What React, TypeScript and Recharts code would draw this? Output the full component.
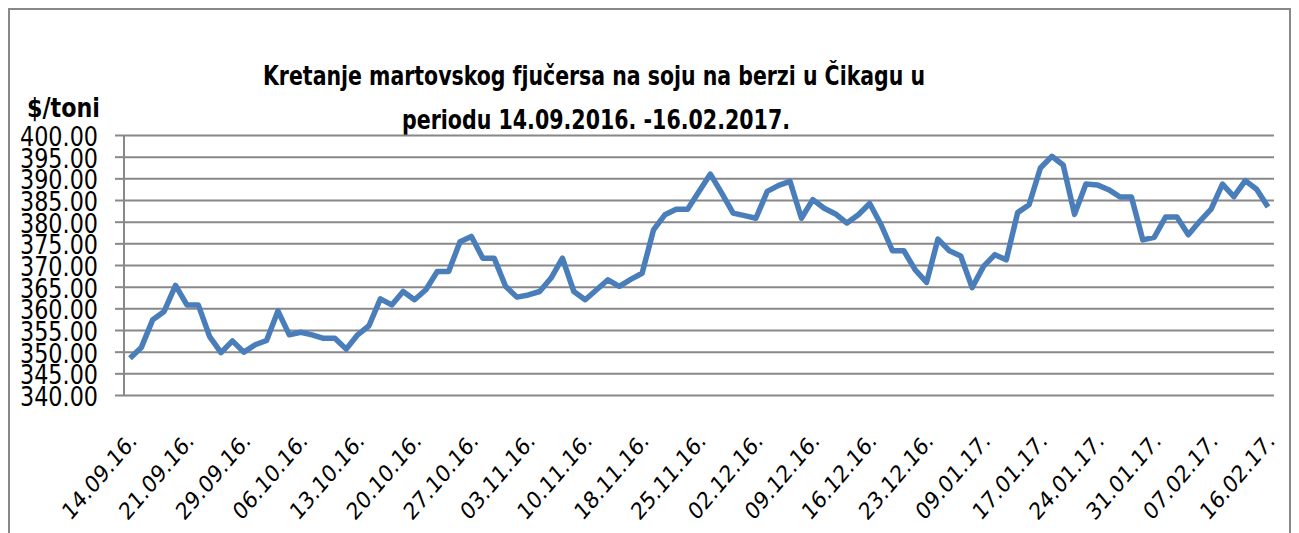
import React from 'react';
import { LineChart, Line, XAxis, YAxis, CartesianGrid } from 'recharts';

const dates = [
  '14.09.16.', '15.09.16.', '16.09.16.', '19.09.16.', '20.09.16.',
  '21.09.16.', '22.09.16.', '23.09.16.', '26.09.16.', '27.09.16.',
  '29.09.16.', '30.09.16.', '03.10.16.', '04.10.16.', '05.10.16.',
  '06.10.16.', '07.10.16.', '10.10.16.', '11.10.16.', '12.10.16.',
  '13.10.16.', '14.10.16.', '17.10.16.', '18.10.16.', '19.10.16.',
  '20.10.16.', '21.10.16.', '24.10.16.', '25.10.16.', '26.10.16.',
  '27.10.16.', '28.10.16.', '31.10.16.', '01.11.16.', '02.11.16.',
  '03.11.16.', '04.11.16.', '07.11.16.', '08.11.16.', '09.11.16.',
  '10.11.16.', '11.11.16.', '14.11.16.', '15.11.16.', '16.11.16.',
  '18.11.16.', '21.11.16.', '22.11.16.', '23.11.16.', '24.11.16.',
  '25.11.16.', '28.11.16.', '29.11.16.', '30.11.16.', '01.12.16.',
  '02.12.16.', '05.12.16.', '06.12.16.', '07.12.16.', '08.12.16.',
  '09.12.16.', '12.12.16.', '13.12.16.', '14.12.16.', '15.12.16.',
  '16.12.16.', '19.12.16.', '20.12.16.', '21.12.16.', '22.12.16.',
  '23.12.16.', '28.12.16.', '30.12.16.', '04.01.17.', '06.01.17.',
  '09.01.17.', '10.01.17.', '11.01.17.', '12.01.17.', '13.01.17.',
  '17.01.17.', '18.01.17.', '19.01.17.', '20.01.17.', '23.01.17.',
  '24.01.17.', '25.01.17.', '26.01.17.', '27.01.17.', '30.01.17.',
  '31.01.17.', '01.02.17.', '02.02.17.', '03.02.17.', '06.02.17.',
  '07.02.17.', '08.02.17.', '09.02.17.', '10.02.17.', '13.02.17.',
  '16.02.17.',
];

const prices = [
  348.6, 351.1, 357.5, 359.4, 365.4, 360.9, 360.9, 353.6, 349.9, 352.6,
  350.0, 351.7, 352.7, 359.5, 354.0, 354.6, 354.0, 353.2, 353.2, 350.7,
  354.0, 356.1, 362.3, 360.9, 364.0, 362.1, 364.4, 368.6, 368.6, 375.5,
  376.7, 371.7, 371.7, 365.2, 362.7, 363.2, 364.0, 367.1, 371.7, 364.0,
  362.1, 364.4, 366.7, 365.2, 366.8, 368.2, 378.2, 381.7, 383.0, 383.0,
  387.1, 391.1, 386.7, 382.1, 381.5, 380.9, 387.1, 388.5, 389.4, 380.9,
  385.2, 383.2, 381.9, 379.8, 381.7, 384.3, 379.4, 373.4, 373.4, 369.0,
  366.1, 376.1, 373.4, 372.2, 364.9, 369.8, 372.5, 371.3, 382.2, 384.0,
  392.5, 395.2, 393.2, 381.8, 388.8, 388.6, 387.5, 385.8, 385.8, 375.9,
  376.5, 381.2, 381.2, 377.1, 380.2, 383.0, 388.8, 385.9, 389.6, 387.6,
  383.5,
];

const yTicks = [340, 345, 350, 355, 360, 365, 370, 375, 380, 385, 390, 395, 400];

const titleLine1 = 'Kretanje martovskog  fjučersa na soju na berzi u Čikagu  u';
const titleLine2 = 'periodu 14.09.2016. -16.02.2017.';
const unitLabel = '$/toni';

const data = dates.map((d, i) => ({ date: d, price: prices[i] }));

const GRID = '#888888';
const BLUE = '#4a7ebb';

const YTick = (props: any) => {
  const { x, y, payload } = props;
  return (
    <text
      x={x - 15}
      y={y + 10.5}
      textAnchor="end"
      fontFamily="DejaVu Sans"
      fontSize={27}
      fill="#000"
      textLength={78}
      lengthAdjust="spacingAndGlyphs"
    >
      {payload.value.toFixed(2)}
    </text>
  );
};

const XTick = (props: any) => {
  const { x, payload } = props;
  return (
    <text
      transform={`translate(${x + 8}, 434) scale(1, 1.18) rotate(-45)`}
      textAnchor="end"
      fontFamily="DejaVu Sans"
      fontSize={20}
      fill="#000"
    >
      {payload.value}
    </text>
  );
};

export default function App() {
  return (
    <div style={{ position: 'relative', width: 1283, height: 525 }}>
      <svg width={1283} height={525} style={{ position: 'absolute', left: 0, top: 0 }}>
        <rect x={1} y={1} width={1281} height={600} fill="#fff" stroke={GRID} strokeWidth={2} />
        <text
          x={586}
          y={77}
          textAnchor="middle"
          fontFamily="DejaVu Sans Condensed"
          fontWeight="bold"
          fontSize={27}
          textLength={662}
          lengthAdjust="spacingAndGlyphs"
        >
          {titleLine1}
        </text>
        <text
          x={588}
          y={121}
          textAnchor="middle"
          fontFamily="DejaVu Sans Condensed"
          fontWeight="bold"
          fontSize={27}
          textLength={388}
          lengthAdjust="spacingAndGlyphs"
        >
          {titleLine2}
        </text>
        <text
          x={19}
          y={109}
          fontFamily="DejaVu Sans Condensed"
          fontWeight="bold"
          fontSize={27}
          textLength={73}
          lengthAdjust="spacingAndGlyphs"
        >
          {unitLabel}
        </text>
      </svg>
      <div style={{ position: 'absolute', left: 0, top: 0 }}>
        <LineChart
          width={1283}
          height={525}
          data={data}
          margin={{ top: 127.5, right: 17, bottom: 17.5, left: 16 }}
        >
          <CartesianGrid vertical={false} stroke={GRID} strokeWidth={2} />
          <XAxis
            dataKey="date"
            interval={4}
            axisLine={false}
            tickLine={false}
            height={120}
            padding={{ left: 6, right: 6 }}
            tick={<XTick />}
          />
          <YAxis
            domain={[340, 400]}
            ticks={yTicks}
            interval={0}
            width={100}
            axisLine={{ stroke: GRID, strokeWidth: 2 }}
            tickLine={{ stroke: GRID, strokeWidth: 2 }}
            tickSize={9}
            tick={<YTick />}
          />
          <Line
            type="linear"
            dataKey="price"
            stroke={BLUE}
            strokeWidth={5.5}
            strokeLinejoin="round"
            dot={false}
            activeDot={false}
            isAnimationActive={false}
          />
        </LineChart>
      </div>
    </div>
  );
}
